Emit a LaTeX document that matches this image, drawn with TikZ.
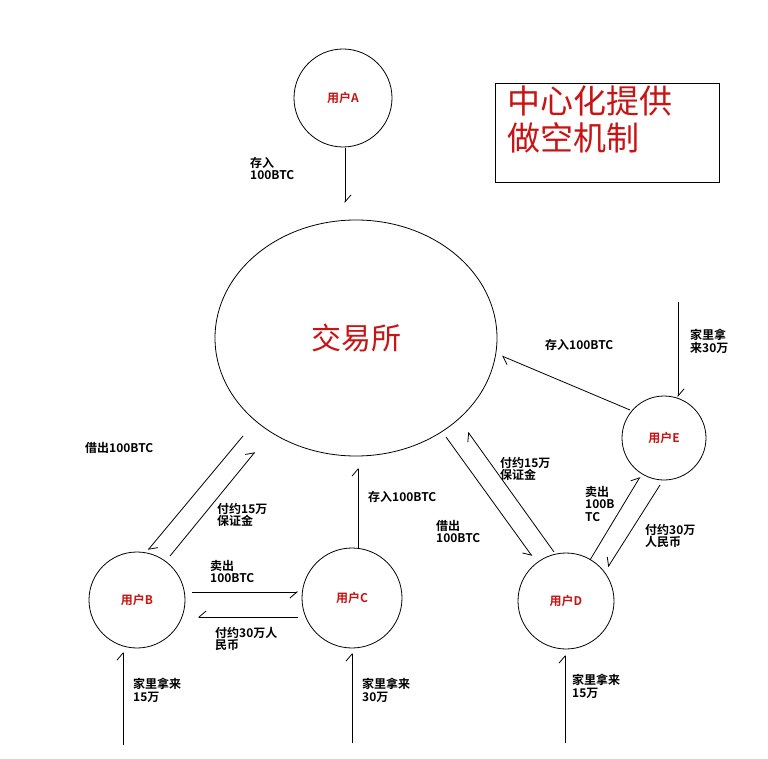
\documentclass[tikz,border=0pt]{standalone}
\usepackage{fontspec}
\setmainfont{Noto Sans CJK SC}[BoldFont={Noto Sans CJK SC Bold}]
\usetikzlibrary{arrows.meta,shapes.geometric}
\definecolor{dred}{RGB}{200,20,20}
\tikzset{
 circ/.style={draw,circle,line width=0.8pt,inner sep=0pt},
 uname/.style={text=dred,font=\bfseries\fontsize{12}{13}\selectfont},
 lbl/.style={font=\bfseries\fontsize{12}{12.5}\selectfont,align=left,anchor=north west,inner sep=0pt},
 hl/.style={line width=0.8pt,-{Straight Barb[right,length=7pt,width=12pt]}},
 hr/.style={line width=0.8pt,-{Straight Barb[left,length=7pt,width=12pt]}},
}
\begin{document}
\begin{tikzpicture}[x=1pt,y=-1pt]
\useasboundingbox (0,0) rectangle (768,759);
\fill[white] (0,0) rectangle (768,759);
\node[circ,minimum size=98pt,uname] (A) at (343,98) {用户A};
\node[draw,ellipse,line width=0.8pt,minimum width=282pt,minimum height=236pt,inner sep=0pt,text=dred,font=\fontsize{30}{32}\selectfont] (X) at (356,338) {交易所};
\node[circ,minimum size=96pt,uname] (B) at (137,600) {用户B};
\node[circ,minimum size=100pt,uname] (C) at (352,598) {用户C};
\node[circ,minimum size=96pt,uname] (D) at (566,601) {用户D};
\node[circ,minimum size=84pt,uname] (E) at (664,438) {用户E};
\node[draw,line width=0.8pt,minimum width=224pt,minimum height=99pt,anchor=north west,inner sep=0pt] (T) at (495,83) {};
\node[text=dred,font=\fontsize{33}{37}\selectfont,align=left,anchor=north west,inner sep=0pt] (TT) at (507,86) {中心化提供\\做空机制};
% coordinates
\coordinate (a1) at (345,148); \coordinate (a2) at (345,203);
\coordinate (x1) at (243,436); \coordinate (b1) at (148,550);
\coordinate (b2) at (170,556); \coordinate (x2) at (255,452);
\coordinate (b3) at (192,592); \coordinate (c1) at (298,592);
\coordinate (c2) at (298,617); \coordinate (b4) at (198,617);
\coordinate (c3) at (358,548); \coordinate (x3) at (358,468);
\coordinate (x4) at (446,437); \coordinate (d1) at (532,556);
\coordinate (d2) at (554,552); \coordinate (x5) at (468,432);
\coordinate (e1) at (630,410); \coordinate (x6) at (502,356);
\coordinate (h1) at (678,302); \coordinate (e2) at (678,397);
\coordinate (d3) at (590,560); \coordinate (e3) at (640,477);
\coordinate (e4) at (660,485); \coordinate (d4) at (608,567);
\coordinate (hb) at (123,745); \coordinate (bb) at (123,652);
\coordinate (hc) at (352,743); \coordinate (cc) at (352,653);
\coordinate (hd) at (565,743); \coordinate (dd) at (565,655);
\draw[hr] (a1) -- (a2);
\draw[hr] (x1) -- (b1);
\draw[hr] (b2) -- (x2);
\draw[hl] (b3) -- (c1);
\draw[hl] (c2) -- (b4);
\draw[hr] (c3) -- (x3);
\draw[hl] (x4) -- (d1);
\draw[hr] (d2) -- (x5);
\draw[hr] (e1) -- (x6);
\draw[hr] (h1) -- (e2);
\draw[hr] (d3) -- (e3);
\draw[hl] (e4) -- (d4);
\draw[hr] (hb) -- (bb);
\draw[hr] (hc) -- (cc);
\draw[hr] (hd) -- (dd);
% labels
\node[lbl] (l1) at (250,157) {存入\\100BTC};
\node[lbl] (l2) at (85,442) {借出100BTC};
\node[lbl] (l3) at (217,503) {付约15万\\保证金};
\node[lbl] (l4) at (210,560) {卖出\\100BTC};
\node[lbl] (l5) at (215,627) {付约30万人\\民币};
\node[lbl] (l6) at (368,491) {存入100BTC};
\node[lbl] (l7) at (436,520) {借出\\100BTC};
\node[lbl] (l8) at (500,457) {付约15万\\保证金};
\node[lbl] (l9) at (545,339) {存入100BTC};
\node[lbl] (l10) at (690,329) {家里拿\\来30万};
\node[lbl] (l11) at (585,486) {卖出\\100B\\TC};
\node[lbl] (l12) at (645,524) {付约30万\\人民币};
\node[lbl] (l13) at (133,678) {家里拿来\\15万};
\node[lbl] (l14) at (362,678) {家里拿来\\30万};
\node[lbl] (l15) at (572,674) {家里拿来\\15万};
\end{tikzpicture}
\end{document}
